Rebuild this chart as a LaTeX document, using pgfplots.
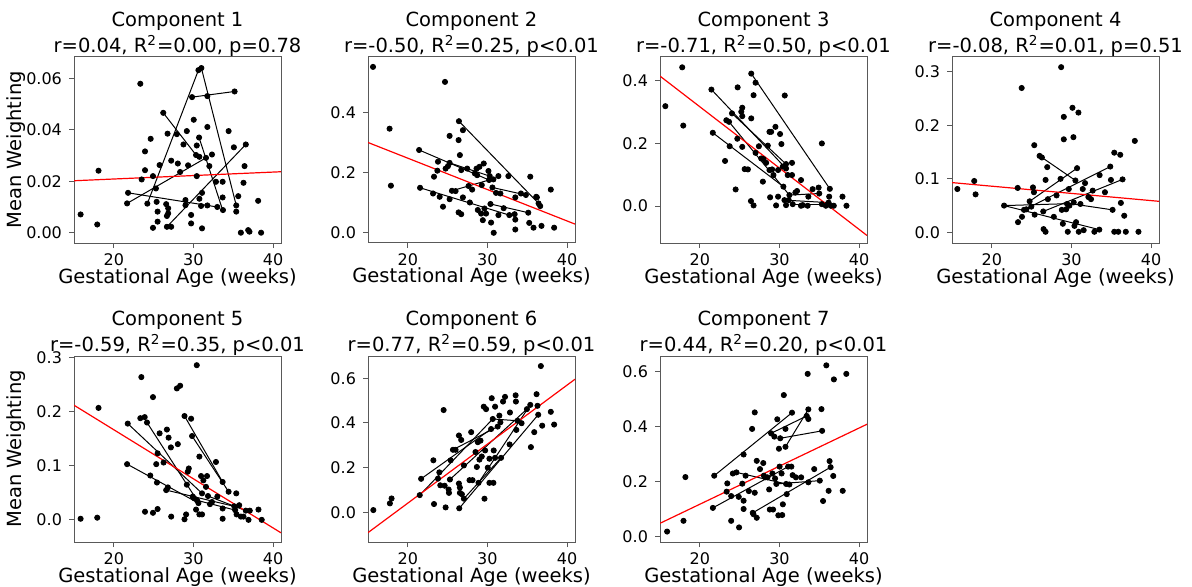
\documentclass[border=0pt]{standalone}
\usepackage{fontspec}
\setmainfont{DejaVu Sans}
\usepackage{pgfplots}
\pgfplotsset{compat=1.18}

\newcommand{\lblfont}{\fontsize{9.75}{13}\selectfont}
\pgfplotsset{
  panel/.style={
    scale only axis, width=103.5pt, height=93pt,
    anchor=north west,
    xmin=15, xmax=41, xtick={20,30,40},
    axis line style={black!65, line width=0.5pt},
    tick style={black!65, line width=0.5pt},
    tick align=outside, major tick length=2.5pt,
    xtick pos=left, ytick pos=left,
    scaled y ticks=false,
    /pgf/number format/assume math mode=true,
    ticklabel style={font=\fontsize{8}{9.5}\selectfont},
    xticklabel style={yshift=0.5pt},
    yticklabel style={/pgf/number format/fixed, /pgf/number format/fixed zerofill, /pgf/number format/precision=1},
    title style={font=\lblfont, align=center, inner sep=0pt, yshift=-6pt},
    xlabel={Gestational Age (weeks)},
    xlabel style={font=\lblfont, at={(axis description cs:0.5,0)}, anchor=base, yshift=-20pt},
    ylabel style={font=\lblfont, at={(axis description cs:-0.28,0.5)}, anchor=center},
  },
  pts/.style={only marks, mark=*, mark size=1.3pt, black},
  seg/.style={black, line width=0.5pt, no markers},
  fit/.style={red, line width=0.6pt, no markers},
}

\begin{document}
\begin{tikzpicture}
\path[use as bounding box] (0,0) rectangle (596pt,-293.5pt);

% ---------------- Component 1
\begin{axis}[panel, at={(37pt,-28.5pt)},
  ymin=-0.004, ymax=0.0683, ytick={0,0.02,0.04,0.06},
  yticklabel style={/pgf/number format/precision=2},
  ylabel={Mean Weighting},
  title={Component 1\\r=0.04, R\textsuperscript{2}=0.00, p=0.78}]
\addplot[pts] coordinates {
(15.83,0.0071) (17.92,0.0032) (18.08,0.0241) (23.33,0.0579) (23.5,0.0207)
(23.92,0.0316) (23.92,0.0243) (24.63,0.0365) (24.92,0.0220) (24.92,0.0019)
(25.29,0.0172) (25.38,0.0120) (25.5,0.0082) (25.5,0.0043) (25.75,0.0263)
(26.21,0.0466) (26.58,0.0111) (26.67,0.0065) (26.75,0.0385) (26.83,0.0095)
(26.67,0.0023) (27.21,0.0023) (27.21,0.0280) (27.92,0.0383) (28.04,0.0269)
(28.33,0.0236) (28.75,0.0343) (29.17,0.0395) (29.33,0.0262) (29.0,0.0127)
(29.0,0.0107) (29.71,0.0069) (29.71,0.0036) (29.83,0.0527) (30.04,0.0439)
(30.33,0.0302) (30.42,0.0339) (30.42,0.0220) (30.63,0.0632) (31.0,0.0640)
(30.71,0.0370) (30.75,0.0132) (30.96,0.0104) (31.08,0.0017) (31.08,0.0155)
(31.58,0.0291) (31.75,0.0531) (31.75,0.0411) (31.75,0.0106) (32.0,0.0259)
(32.33,0.0304) (32.83,0.0198) (33.0,0.0100) (33.67,0.0198) (33.67,0.0137)
(33.71,0.0088) (34.42,0.0395) (35.17,0.0549) (35.08,0.0332) (35.38,0.0106)
(35.38,0.0082) (35.63,0.0142) (35.96,0.0) (36.29,0.0194) (36.42,0.0259)
(36.58,0.0343) (36.88,0.0010) (37.04,0.0004) (38.13,0.0124) (38.5,0.0)
(21.67,0.0114) (21.79,0.0155) (24.21,0.0113) (26.83,0.0075) (30.75,0.0295)
};
\addplot[seg] coordinates {(21.67,0.0114) (31.58,0.0291)};
\addplot[seg] coordinates {(21.79,0.0155) (33.0,0.0100)};
\addplot[seg] coordinates {(24.21,0.0113) (30.63,0.0632)};
\addplot[seg] coordinates {(31.0,0.0640) (35.38,0.0106)};
\addplot[seg] coordinates {(29.83,0.0527) (35.17,0.0549)};
\addplot[seg] coordinates {(26.21,0.0466) (30.33,0.0302)};
\addplot[seg] coordinates {(26.67,0.0023) (36.58,0.0343)};
\addplot[seg] coordinates {(30.71,0.0370) (33.67,0.0088)};
\addplot[fit] coordinates {(15,0.0202) (41,0.0237)};
\end{axis}

% ---------------- Component 2
\begin{axis}[panel, at={(184pt,-28.5pt)},
  ymin=-0.034, ymax=0.586, ytick={0,0.2,0.4},
  title={Component 2\\r=-0.50, R\textsuperscript{2}=0.25, p<0.01}]
\addplot[pts] coordinates {
(15.63,0.553) (17.71,0.347) (17.88,0.157) (21.42,0.276) (21.54,0.150)
(23.17,0.131) (23.29,0.187) (23.71,0.207) (23.79,0.237) (24.0,0.120)
(24.42,0.087) (24.67,0.503) (24.75,0.214) (25.04,0.222) (25.25,0.323)
(25.25,0.233) (25.25,0.112) (25.54,0.140) (26.0,0.139) (26.38,0.309)
(26.42,0.372) (26.54,0.259) (26.38,0.068) (26.71,0.062) (26.71,0.209)
(26.92,0.342) (26.92,0.118) (27.46,0.214) (27.63,0.156) (27.79,0.101)
(28.08,0.144) (28.42,0.198) (28.63,0.214) (28.71,0.192) (28.79,0.076)
(29.0,0.220) (29.21,0.064) (29.29,0.159) (29.42,0.042) (29.54,0.231)
(29.63,0.081) (29.83,0.064) (30.13,0.206) (30.21,0.176) (30.29,0.189)
(30.38,0.096) (30.46,0.034) (30.63,0.151) (30.75,0.178) (30.79,0.0)
(31.08,0.133) (31.38,0.189) (31.38,0.059) (31.63,0.131) (32.04,0.082)
(32.63,0.189) (32.75,0.059) (33.42,0.062) (33.5,0.118) (33.5,0.044)
(33.5,0.011) (34.21,0.131) (34.83,0.126) (35.13,0.067) (35.25,0.033)
(35.38,0.187) (35.79,0.017) (36.13,0.120) (36.21,0.118) (36.42,0.098)
(36.63,0.089) (36.79,0.023) (37.96,0.144) (38.38,0.017)
};
\addplot[seg] coordinates {(21.42,0.276) (30.21,0.176)};
\addplot[seg] coordinates {(21.54,0.150) (32.75,0.059)};
\addplot[seg] coordinates {(25.54,0.140) (30.21,0.176)};
\addplot[seg] coordinates {(25.25,0.233) (30.29,0.189)};
\addplot[seg] coordinates {(30.38,0.096) (35.13,0.067)};
\addplot[seg] coordinates {(30.63,0.151) (34.83,0.126)};
\addplot[seg] coordinates {(26.42,0.372) (36.42,0.098)};
\addplot[fit] coordinates {(15,0.301) (41,0.029)};
\end{axis}

% ---------------- Component 3
\begin{axis}[panel, at={(330pt,-28.5pt)},
  ymin=-0.118, ymax=0.476, ytick={0,0.2,0.4},
  title={Component 3\\r=-0.71, R\textsuperscript{2}=0.50, p<0.01}]
\addplot[pts] coordinates {
(15.67,0.319) (17.79,0.443) (17.92,0.257) (21.46,0.372) (21.63,0.234)
(23.17,0.144) (23.33,0.274) (23.67,0.269) (23.75,0.191) (24.04,0.296)
(24.5,0.053) (24.71,0.215) (24.75,0.379) (25.21,0.301) (25.33,0.314)
(25.33,0.287) (25.33,0.189) (25.63,0.118) (26.04,0.117) (26.42,0.016)
(26.46,0.280) (26.46,0.423) (26.75,0.002) (26.75,0.354) (27.0,0.394)
(27.0,0.170) (27.42,0.191) (27.71,0.152) (28.0,0.150) (27.92,0.078)
(28.33,0.138) (28.54,0.193) (28.75,0.237) (28.96,0.237) (28.83,0.028)
(28.75,0.115) (29.08,0.117) (29.25,0.099) (29.5,0.253) (29.58,0.002)
(29.83,0.115) (29.83,0.030) (30.08,0.230) (30.25,0.198) (30.42,0.126)
(30.5,0.062) (30.63,0.019) (30.67,0.353) (30.83,0.134) (30.83,0.120)
(30.83,0.003) (31.04,0.099) (31.17,0.019) (31.25,0.035) (31.58,0.138)
(31.58,0.099) (31.67,0.006) (32.0,0.043) (32.21,0.048) (32.71,0.083)
(32.71,0.001) (32.92,0.003) (33.54,0.001) (33.63,0.030) (34.17,0.054)
(34.92,0.059) (35.0,0.040) (35.33,0.200) (35.33,0.006) (35.83,0.001)
(36.17,0.011) (36.25,0.030) (36.33,0.055) (36.46,0.001) (36.83,0.001)
(37.92,0.030) (38.42,0.001)
};
\addplot[seg] coordinates {(26.46,0.423) (36.33,0.055)};
\addplot[seg] coordinates {(21.46,0.372) (30.83,0.120)};
\addplot[seg] coordinates {(24.04,0.296) (30.83,0.134)};
\addplot[seg] coordinates {(23.67,0.269) (31.25,0.035)};
\addplot[seg] coordinates {(21.63,0.234) (30.5,0.062)};
\addplot[seg] coordinates {(31.25,0.035) (35.0,0.040)};
\addplot[seg] coordinates {(30.63,0.019) (36.17,0.011)};
\addplot[seg] coordinates {(31.67,0.006) (35.33,0.006)};
\addplot[fit] coordinates {(15,0.415) (41,-0.094)};
\end{axis}

% ---------------- Component 4
\begin{axis}[panel, at={(476pt,-28.5pt)},
  ymin=-0.020, ymax=0.328, ytick={0,0.1,0.2,0.3},
  title={Component 4\\r=-0.08, R\textsuperscript{2}=0.01, p=0.51}]
\addplot[pts] coordinates {
(15.67,0.081) (17.79,0.096) (17.96,0.071) (21.54,0.050) (23.29,0.019)
(23.25,0.083) (23.75,0.270) (23.79,0.029) (24.04,0.042) (24.33,0.043)
(24.75,0.058) (24.96,0.048) (25.17,0.084) (25.29,0.075) (25.33,0.163)
(25.38,0.033) (26.0,0.143) (26.29,0.140) (26.46,0.039) (26.5,0.006)
(26.75,0.001) (26.75,0.098) (26.96,0.122) (27.04,0.062) (27.79,0.029)
(28.13,0.069) (28.63,0.100) (28.71,0.309) (28.79,0.042) (28.92,0.016)
(29.04,0.216) (29.04,0.174) (29.33,0.043) (29.46,0.053) (29.54,0.001)
(29.67,0.081) (29.75,0.050) (30.13,0.233) (30.25,0.178) (30.29,0.056)
(30.38,0.012) (30.5,0.097) (30.58,0.019) (30.71,0.120) (30.88,0.224)
(30.92,0.001) (31.13,0.053) (31.42,0.081) (31.54,0.004) (31.71,0.092)
(32.13,0.066) (32.46,0.062) (32.67,0.078) (32.88,0.001) (33.5,0.005)
(33.54,0.107) (34.21,0.075) (34.88,0.123) (34.96,0.098) (35.17,0.042)
(35.38,0.149) (35.38,0.001) (35.88,0.001) (36.13,0.145) (36.21,0.055)
(36.42,0.099) (36.63,0.031) (36.83,0.001) (37.96,0.171) (38.42,0.001)
};
\addplot[seg] coordinates {(21.54,0.050) (33.5,0.005)};
\addplot[seg] coordinates {(21.54,0.050) (30.5,0.054)};
\addplot[seg] coordinates {(24.75,0.058) (30.71,0.120)};
\addplot[seg] coordinates {(24.04,0.042) (34.88,0.123)};
\addplot[seg] coordinates {(26.46,0.039) (36.42,0.099)};
\addplot[seg] coordinates {(26.0,0.143) (30.5,0.097)};
\addplot[seg] coordinates {(30.17,0.053) (35.17,0.042)};
\addplot[fit] coordinates {(15,0.093) (41,0.058)};
\end{axis}

% ---------------- Component 5
\begin{axis}[panel, at={(37pt,-178pt)},
  ymin=-0.041, ymax=0.303, ytick={0,0.1,0.2,0.3},
  ylabel={Mean Weighting},
  title={Component 5\\r=-0.59, R\textsuperscript{2}=0.35, p<0.01}]
\addplot[pts] coordinates {
(15.83,0.002) (17.92,0.004) (18.08,0.207) (21.75,0.178) (21.67,0.103)
(23.46,0.264) (23.33,0.188) (23.88,0.190) (23.92,0.015) (24.17,0.180)
(24.58,0.082) (24.92,0.227) (24.92,0.013) (25.33,0.103) (25.42,0.069)
(25.5,0.123) (25.5,0.020) (25.75,0.160) (26.25,0.106) (26.58,0.055)
(26.67,0.167) (26.79,0.060) (26.88,0.152) (27.17,0.134) (27.21,0.006)
(27.92,0.243) (28.04,0.140) (28.33,0.248) (28.88,0.192) (28.88,0.001)
(29.08,0.010) (29.17,0.065) (29.29,0.089) (29.42,0.095) (29.71,0.187)
(29.83,0.155) (29.92,0.043) (30.08,0.040) (30.33,0.019) (30.42,0.286)
(30.46,0.036) (30.63,0.031) (30.75,0.117) (30.75,0.010) (30.96,0.081)
(31.08,0.010) (31.08,0.049) (31.25,0.073) (31.58,0.061) (31.71,0.081)
(31.83,0.044) (32.08,0.029) (32.33,0.033) (32.83,0.107) (33.0,0.043)
(33.67,0.070) (33.67,0.021) (33.67,0.002) (34.42,0.052) (35.13,0.025)
(35.25,0.018) (35.38,0.049) (35.42,0.010) (35.75,0.027) (35.96,0.006)
(36.29,0.006) (36.58,0.017) (36.92,0.0) (37.08,0.017) (38.17,0.019)
(38.58,0.0)
};
\addplot[seg] coordinates {(21.75,0.178) (31.08,0.049)};
\addplot[seg] coordinates {(24.17,0.180) (30.46,0.036)};
\addplot[seg] coordinates {(21.67,0.103) (30.63,0.031)};
\addplot[seg] coordinates {(26.58,0.055) (35.13,0.025)};
\addplot[seg] coordinates {(28.88,0.192) (33.67,0.070)};
\addplot[seg] coordinates {(29.83,0.155) (34.42,0.052)};
\addplot[seg] coordinates {(31.83,0.044) (36.58,0.017)};
\addplot[seg] coordinates {(30.46,0.036) (35.25,0.018)};
\addplot[fit] coordinates {(15,0.212) (41,-0.024)};
\end{axis}

% ---------------- Component 6
\begin{axis}[panel, at={(184pt,-178pt)},
  ymin=-0.133, ymax=0.70, ytick={0,0.2,0.4,0.6},
  title={Component 6\\r=0.77, R\textsuperscript{2}=0.59, p<0.01}]
\addplot[pts] coordinates {
(15.67,0.010) (17.75,0.040) (17.96,0.062) (21.5,0.077) (21.67,0.150)
(23.21,0.233) (23.29,0.037) (23.79,0.151) (23.96,0.179) (24.08,0.121)
(24.5,0.458) (24.63,0.119) (24.75,0.022) (25.13,0.102) (25.17,0.087)
(25.29,0.147) (25.38,0.233) (25.67,0.280) (26.0,0.280) (26.42,0.344)
(26.42,0.129) (26.54,0.111) (26.54,0.087) (26.46,0.018) (26.71,0.324)
(26.79,0.081) (27.04,0.210) (27.04,0.061) (27.75,0.144) (27.96,0.359)
(28.13,0.144) (28.5,0.270) (28.67,0.203) (28.79,0.314) (28.88,0.132)
(29.0,0.236) (29.13,0.321) (29.29,0.250) (29.54,0.473) (29.63,0.061)
(29.71,0.277) (29.83,0.462) (30.04,0.200) (30.25,0.240) (30.25,0.132)
(30.46,0.373) (30.54,0.511) (30.67,0.418) (30.75,0.132) (30.79,0.277)
(30.96,0.244) (30.96,0.473) (31.29,0.384) (31.5,0.433) (31.63,0.403)
(31.71,0.244) (31.96,0.496) (32.21,0.517) (32.83,0.447) (32.79,0.304)
(33.54,0.524) (33.58,0.496) (33.63,0.369) (33.79,0.410) (34.29,0.399)
(34.96,0.462) (35.38,0.481) (35.46,0.292) (35.88,0.359) (36.17,0.529)
(36.29,0.477) (36.38,0.437) (36.71,0.655) (36.88,0.388) (37.96,0.450)
(38.38,0.393)
};
\addplot[seg] coordinates {(21.67,0.150) (30.46,0.373)};
\addplot[seg] coordinates {(21.5,0.077) (30.67,0.418)};
\addplot[seg] coordinates {(25.67,0.280) (31.29,0.384)};
\addplot[seg] coordinates {(25.29,0.147) (34.96,0.462)};
\addplot[seg] coordinates {(26.46,0.018) (36.38,0.437)};
\addplot[seg] coordinates {(28.88,0.132) (35.38,0.481)};
\addplot[seg] coordinates {(30.67,0.418) (33.79,0.410)};
\addplot[seg] coordinates {(27.04,0.061) (31.71,0.244)};
\addplot[fit] coordinates {(15,-0.091) (41,0.596)};
\end{axis}

% ---------------- Component 7
\begin{axis}[panel, at={(330pt,-178pt)},
  ymin=-0.019, ymax=0.657, ytick={0,0.2,0.4,0.6},
  title={Component 7\\r=0.44, R\textsuperscript{2}=0.20, p<0.01}]
\addplot[pts] coordinates {
(15.89,0.019) (17.95,0.058) (18.19,0.217) (21.81,0.222) (21.64,0.105)
(23.45,0.194) (23.37,0.164) (23.94,0.148) (23.94,0.058) (24.15,0.230)
(24.6,0.234) (24.89,0.145) (24.93,0.034) (25.34,0.193) (25.5,0.299)
(25.5,0.131) (25.5,0.101) (25.75,0.222) (26.16,0.166) (26.57,0.392)
(26.9,0.452) (26.65,0.087) (26.74,0.082) (26.9,0.160) (27.15,0.069)
(27.15,0.276) (27.56,0.246) (27.97,0.268) (28.05,0.222) (28.21,0.216)
(28.5,0.216) (28.71,0.172) (28.79,0.099) (28.95,0.376) (29.12,0.230)
(29.2,0.099) (29.36,0.364) (29.45,0.212) (29.61,0.192) (29.73,0.427)
(29.86,0.078) (29.94,0.320) (30.02,0.255) (30.1,0.358) (30.27,0.230)
(30.35,0.079) (30.43,0.118) (30.55,0.515) (30.76,0.392) (30.76,0.327)
(30.84,0.192) (30.92,0.155) (31.09,0.255) (31.25,0.190) (31.5,0.255)
(31.58,0.451) (31.66,0.224) (32.07,0.216) (32.73,0.216) (33.43,0.439)
(33.55,0.592) (33.63,0.463) (33.63,0.428) (33.63,0.198) (34.37,0.246)
(35.07,0.204) (35.28,0.464) (35.36,0.385) (35.48,0.130) (35.89,0.623)
(36.18,0.167) (36.3,0.275) (36.43,0.253) (36.84,0.572) (36.76,0.221)
(37.95,0.167) (38.4,0.592)
};
\addplot[seg] coordinates {(21.81,0.222) (31.58,0.451)};
\addplot[seg] coordinates {(21.64,0.105) (31.09,0.255)};
\addplot[seg] coordinates {(26.65,0.087) (36.43,0.253)};
\addplot[seg] coordinates {(24.6,0.234) (30.84,0.192)};
\addplot[seg] coordinates {(29.61,0.192) (35.07,0.204)};
\addplot[seg] coordinates {(28.95,0.376) (33.43,0.439)};
\addplot[seg] coordinates {(30.1,0.358) (35.36,0.385)};
\addplot[seg] coordinates {(30.76,0.327) (33.63,0.463)};
\addplot[fit] coordinates {(15,0.049) (41,0.409)};
\end{axis}
\end{tikzpicture}
\end{document}
